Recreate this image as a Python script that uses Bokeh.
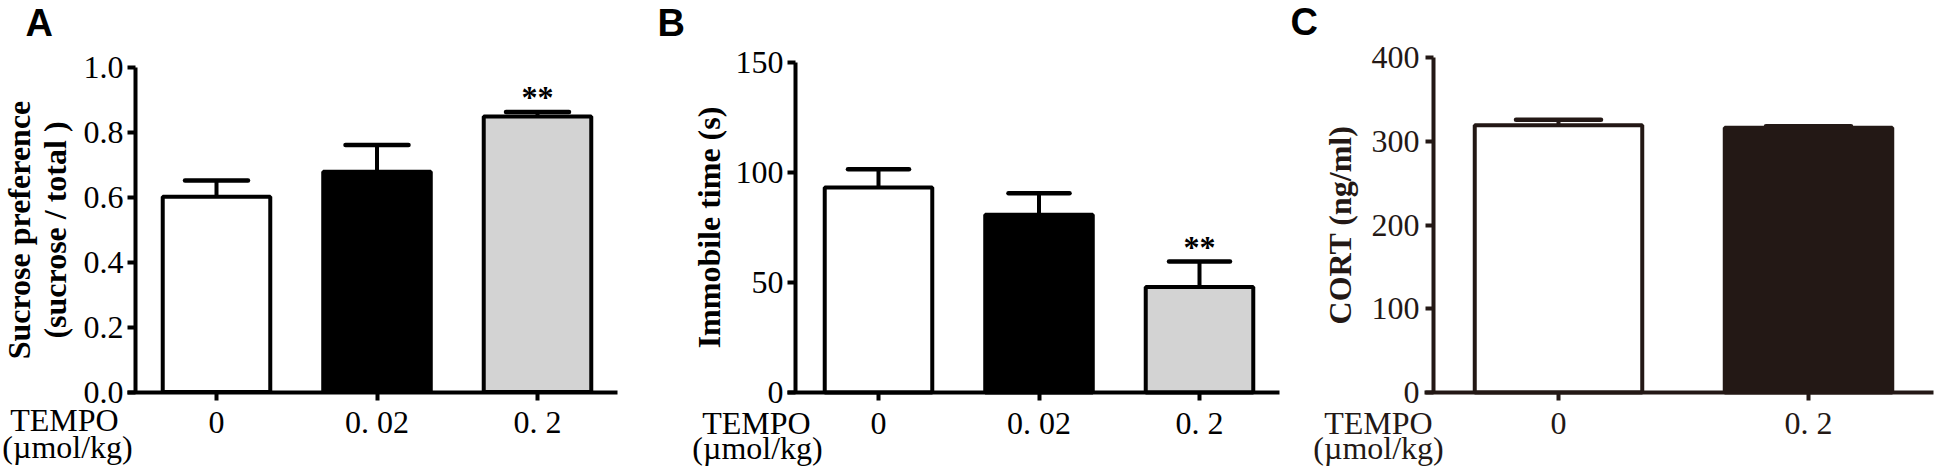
from bokeh.plotting import figure
from bokeh.models import (Range1d, FixedTicker, NumeralTickFormatter,
                          Whisker, TeeHead, ColumnDataSource, Label)
from bokeh.layouts import row
from bokeh.embed import file_html
from bokeh.resources import INLINE
from bokeh.core.properties import value

# ---------------- data ----------------
a_doses = ["0", "0. 02", "0. 2"]
a_means = [0.602, 0.679, 0.849]
a_sem = [0.050, 0.082, 0.014]
a_sig = ["", "", "**"]
a_colors = ["white", "black", "#d3d3d3"]
a_yticks = [0, 0.2, 0.4, 0.6, 0.8, 1.0]
a_ylabel = "Sucrose preference\n(sucrose / total )"

b_doses = ["0", "0. 02", "0. 2"]
b_means = [93.2, 80.8, 48.0]
b_sem = [8.3, 9.8, 11.5]
b_sig = ["", "", "**"]
b_colors = ["white", "black", "#d3d3d3"]
b_yticks = [0, 50, 100, 150]
b_ylabel = "Immobile time (s)"

c_doses = ["0", "0. 2"]
c_means = [319, 316]
c_sem = [6.8, 2.0]
c_sig = ["", ""]
c_colors = ["white", "#231815"]
c_yticks = [0, 100, 200, 300, 400]
c_ylabel = "CORT (ng/ml)"

x_title1 = "TEMPO"
x_title2 = "(\u00b5mol/kg)"

SERIF = "Liberation Serif"
SANS = "Liberation Sans"
PAGE_TOP, PAGE_BOTTOM = 0, 468


def panel(letter, doses, means, sem, sig, colors, yticks, ylabel, fmt, g, ink,
          cap, tick_standoff, label_standoff):
    # g: page-pixel geometry of this panel
    x_at = lambda px: (px - g["cat0"]) / g["step"]
    ymax = yticks[-1]
    y_at = lambda py: (g["y0"] - py) * ymax / (g["y0"] - g["ytop"])
    width = g["right"] - g["left"]
    height = PAGE_BOTTOM - PAGE_TOP
    p = figure(width=width, height=height, title=None,
               x_range=Range1d(x_at(g["left"]), x_at(g["right"])),
               y_range=Range1d(y_at(PAGE_BOTTOM), y_at(PAGE_TOP)),
               output_backend="svg", toolbar_location=None, min_border=0)
    p.outline_line_color = None
    p.background_fill_color = "white"
    p.border_fill_color = "white"
    p.xgrid.visible = False
    p.ygrid.visible = False

    idx = list(range(len(doses)))
    upper = [m + s for m, s in zip(means, sem)]
    src = ColumnDataSource(dict(x=idx, top=means, upper=upper, color=colors, sig=sig))
    p.vbar(x="x", top="top", bottom=0, width=0.67, source=src, fill_color="color",
           line_color=ink, line_width=4)
    w = Whisker(source=src, base="x", lower="top", upper="upper", dimension="height",
                line_color=ink, line_width=4, lower_head=None,
                upper_head=TeeHead(size=cap, line_width=4.5, line_color=ink, line_cap="round"))
    p.add_layout(w)
    p.text(x="x", y="upper", text="sig", source=src, text_align="center",
           text_baseline="middle", y_offset=-15, text_font=value(SERIF),
           text_font_size="32px", text_font_style="bold", text_color=ink)

    for ax in (p.xaxis[0], p.yaxis[0]):
        ax.axis_line_width = 4
        ax.axis_line_color = ink
        ax.major_tick_line_width = 4
        ax.major_tick_line_color = ink
        ax.major_tick_in = 0
        ax.major_tick_out = 8
        ax.minor_tick_line_color = None
        ax.major_label_text_font = SERIF
        ax.major_label_text_font_size = "32px"
        ax.major_label_text_color = ink
    p.xaxis.fixed_location = 0
    p.xaxis.bounds = (x_at(g["xfrom"]), x_at(g["xto"]))
    p.xaxis.ticker = FixedTicker(ticks=idx)
    p.xaxis.major_label_overrides = {i: d for i, d in zip(idx, doses)}
    p.xaxis.major_label_standoff = 4
    p.yaxis.fixed_location = x_at(g["yaxis"])
    p.yaxis.bounds = (0, ymax)
    p.yaxis.ticker = FixedTicker(ticks=yticks)
    p.yaxis.formatter = NumeralTickFormatter(format=fmt)
    p.yaxis.major_label_standoff = tick_standoff
    p.yaxis.axis_label = ylabel
    p.yaxis.axis_label_text_font = SERIF
    p.yaxis.axis_label_text_font_size = "32px"
    p.yaxis.axis_label_text_font_style = "bold"
    p.yaxis.axis_label_text_line_height = 0.98
    p.yaxis.axis_label_text_color = ink
    p.yaxis.axis_label_standoff = label_standoff

    sx = lambda px: px - g["left"]
    sy = lambda py: PAGE_BOTTOM - py
    p.add_layout(Label(x=sx(g["letter"][0]), y=sy(g["letter"][1]), x_units="screen", y_units="screen",
                       text=letter, text_font=SANS, text_font_size="38px",
                       text_font_style="bold", text_color="black",
                       text_baseline="middle", text_align="left"))
    p.add_layout(Label(x=sx(g["t1"][0]), y=sy(g["t1"][1]), x_units="screen", y_units="screen",
                       text=x_title1, text_font=SERIF, text_font_size="32px",
                       text_color=ink, text_baseline="middle", text_align="center"))
    p.add_layout(Label(x=sx(g["t2"][0]), y=sy(g["t2"][1]), x_units="screen", y_units="screen",
                       text=x_title2, text_font=SERIF, text_font_size="32px",
                       text_color=ink, text_baseline="middle", text_align="center"))
    return p


# page-pixel geometry; text positions are (x, vertical middle of the text box)
geom_a = dict(left=0, right=650, cat0=216, step=160.5, y0=391.5, ytop=67, yaxis=135,
              xfrom=127, xto=617, letter=(25, 22), t1=(64, 419), t2=(67, 446))
geom_b = dict(left=650, right=1285, cat0=878, step=160.5, y0=392, ytop=62, yaxis=795,
              xfrom=787, xto=1279, letter=(657, 22), t1=(756, 422), t2=(757, 447))
geom_c = dict(left=1285, right=1936, cat0=1558, step=250, y0=392, ytop=57, yaxis=1433,
              xfrom=1424, xto=1933, letter=(1290, 21), t1=(1378, 422), t2=(1378, 447))

pa = panel("A", a_doses, a_means, a_sem, a_sig, a_colors, a_yticks, a_ylabel, "0.0",
           geom_a, "black", cap=63, tick_standoff=4, label_standoff=8)
pb = panel("B", b_doses, b_means, b_sem, b_sig, b_colors, b_yticks, b_ylabel, "0",
           geom_b, "black", cap=61, tick_standoff=4, label_standoff=6)
pc = panel("C", c_doses, c_means, c_sem, c_sig, c_colors, c_yticks, c_ylabel, "0",
           geom_c, "#231815", cap=85, tick_standoff=6, label_standoff=11)

layout = row(pa, pb, pc)
open("out.html", "w").write(file_html(layout, INLINE))
